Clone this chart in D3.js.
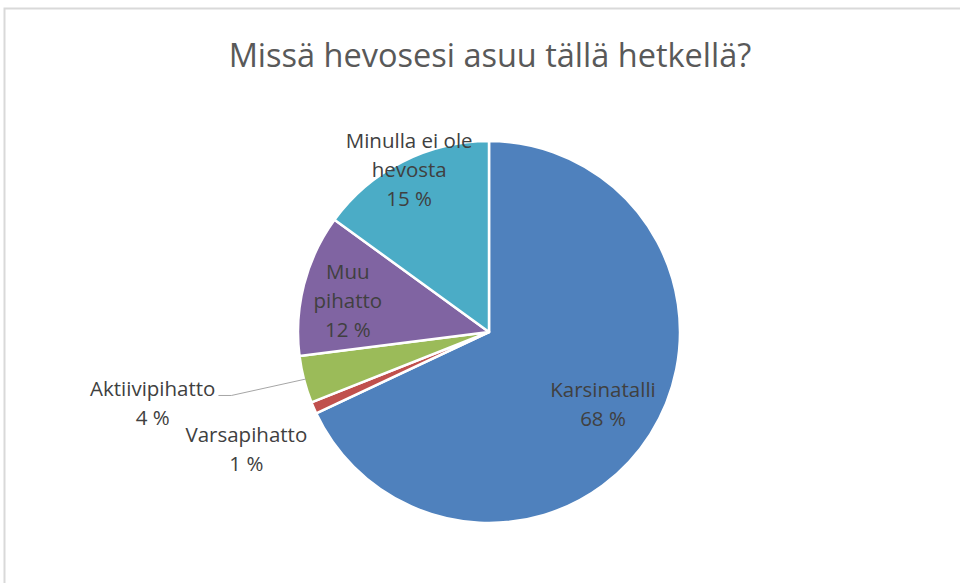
<!DOCTYPE html>
<html>
<head>
<meta charset="utf-8">
<script src="https://cdn.jsdelivr.net/npm/d3@7"></script>
<style>
  body { margin: 0; background: #fff; }
  svg { display: block; }
</style>
</head>
<body>
<div id="chart"></div>
<script>
// data (percent of answers)
var categories = ["Karsinatalli", "Varsapihatto", "Aktiivipihatto", "Muu pihatto", "Minulla ei ole hevosta"];
var values = [68, 1, 4, 12, 15];
var colors = ["#4F81BD", "#C0504D", "#9BBB59", "#8064A2", "#4BACC6"];
// how each label is broken into lines
var labelLines = [["Karsinatalli"], ["Varsapihatto"], ["Aktiivipihatto"], ["Muu", "pihatto"], ["Minulla ei ole", "hevosta"]];

var width = 960, height = 583;
var cx = 489, cy = 332, radius = 191;
var lineGap = 29;

// label placement: distance from centre as share of radius, plus angle nudge (deg)
var labelLayout = [
    { k: 0.707, da: 0 },
    { k: 1.41, da: -2.3 },
    { k: 1.80, da: 2.4, leader: true },
    { k: 0.757, da: -1.8 },
    { k: 0.95, da: 0.9 }
];

var svg = d3.select("#chart")
    .append("svg")
    .attr("width", width)
    .attr("height", height);

// chart frame
svg.append("rect")
    .attr("x", 4.5)
    .attr("y", 8.5)
    .attr("width", 1000)
    .attr("height", 1000)
    .attr("fill", "none")
    .attr("stroke", "#d9d9d9")
    .attr("stroke-width", 2);

svg.append("text")
    .attr("x", 490)
    .attr("y", 67)
    .attr("text-anchor", "middle")
    .attr("font-family", "Open Sans, sans-serif")
    .attr("font-size", 32.5)
    .attr("fill", "#595959")
    .text("Missä hevosesi asuu tällä hetkellä?");

var pie = d3.pie().sort(null).value(function (d) { return d; });
var arcs = pie(values);

var arc = d3.arc().innerRadius(0).outerRadius(radius);

var g = svg.append("g")
    .attr("transform", "translate(" + cx + "," + cy + ")");

g.selectAll("path.slice")
    .data(arcs)
    .enter()
    .append("path")
    .attr("class", "slice")
    .attr("d", arc)
    .attr("fill", function (d, i) { return colors[i]; })
    .attr("stroke", "#fff")
    .attr("stroke-width", 2.5)
    .attr("stroke-linejoin", "round");

function polar(angle, r) {
    return [Math.sin(angle) * r, -Math.cos(angle) * r];
}

arcs.forEach(function (d, i) {
    var lay = labelLayout[i];
    var mid = (d.startAngle + d.endAngle) / 2;
    var p = polar(mid + lay.da * Math.PI / 180, lay.k * radius);
    var lines = labelLines[i].concat([d3.format("d")(values[i]) + " %"]);
    var n = lines.length;
    var firstBase = p[1] - (n - 1) * lineGap / 2 + 7.5;

    var t = g.append("text")
        .attr("text-anchor", "middle")
        .attr("font-family", "Open Sans, sans-serif")
        .attr("font-size", 20.5)
        .attr("fill", "#404040");

    lines.forEach(function (s, j) {
        t.append("tspan")
            .attr("x", p[0])
            .attr("y", firstBase + j * lineGap)
            .text(s);
    });

    if (lay.leader) {
        var w = t.select("tspan").node().getComputedTextLength();
        var edge = polar(mid, radius - 2);
        var endX = p[0] + w / 2 + 3;
        var yL = firstBase - 1;
        g.append("polyline")
            .attr("points", [[endX, yL], [endX + 13, yL], edge].map(function (q) { return q.join(","); }).join(" "))
            .attr("fill", "none")
            .attr("stroke", "#a6a6a6")
            .attr("stroke-width", 1);
    }
});
</script>
</body>
</html>
